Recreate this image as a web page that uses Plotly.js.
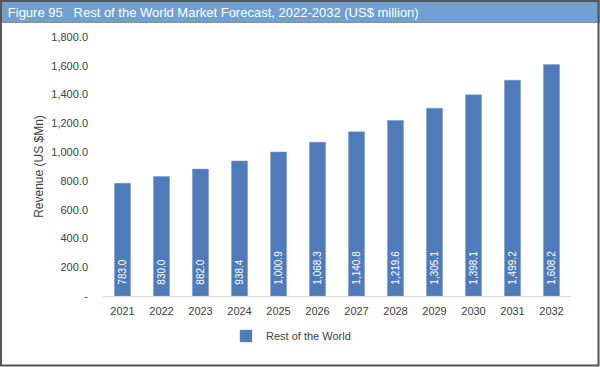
<!DOCTYPE html>
<html>
<head>
<meta charset="utf-8">
<script src="https://cdn.plot.ly/plotly-3.0.1.min.js"></script>
<style>html,body{margin:0;padding:0;background:#fff;}#chart{width:600px;height:367px;}</style>
</head>
<body>
<div id="chart"></div>
<script>
const years = ["2021","2022","2023","2024","2025","2026","2027","2028","2029","2030","2031","2032"];
const revenue = [783.0, 830.0, 882.0, 938.4, 1000.9, 1068.3, 1140.8, 1219.6, 1305.1, 1398.1, 1499.2, 1608.2];
const seriesName = "Rest of the World";
const yTickVals = [0, 200, 400, 600, 800, 1000, 1200, 1400, 1600, 1800];
const yTickText = ["-", "200.0", "400.0", "600.0", "800.0", "1,000.0", "1,200.0", "1,400.0", "1,600.0", "1,800.0"];

const fmt = v => "&nbsp;&nbsp;&nbsp;" + v.toLocaleString("en-US", {minimumFractionDigits: 1, maximumFractionDigits: 1});

// pixel -> paper conversion helpers for decoration shapes
const L = 103, R = 29, T = 37, B = 71, W = 600, H = 367;
const pw = W - L - R, ph = H - T - B;
const px = x => (x - L) / pw;
const py = y => (H - B - y) / ph;

const trace = {
  type: "bar",
  x: years,
  y: revenue,
  name: seriesName,
  marker: {color: "#4f7bba", line: {color: "#6f97cc", width: 0.5}},
  text: revenue.map(fmt),
  textposition: "inside",
  insidetextanchor: "start",
  textangle: -90,
  textfont: {family: "Liberation Sans, Arial, sans-serif", size: 10, color: "#ffffff"},
  constraintext: "none",
  hoverinfo: "skip",
  showlegend: true
};

const layout = {
  width: W, height: H,
  margin: {l: L, r: R, t: T, b: B, pad: 0},
  paper_bgcolor: "#ffffff",
  plot_bgcolor: "#ffffff",
  bargap: 0.59,
  title: {
    text: "Figure 95&nbsp;&nbsp;&nbsp;Rest of the World Market Forecast, 2022-2032 (US$ million)",
    font: {family: "Liberation Sans, Arial, sans-serif", size: 13, color: "#ffffff"},
    xref: "container", x: 0.013, xanchor: "left",
    yref: "container", y: 1 - 12/H, yanchor: "middle"
  },
  xaxis: {
    type: "category",
    range: [-0.5, 11.5],
    showgrid: false,
    showline: true, linecolor: "#d9d9d9", linewidth: 1,
    ticks: "",
    tickfont: {family: "Liberation Sans, Arial, sans-serif", size: 11, color: "#404040"},
    ticklabelstandoff: 5
  },
  yaxis: {
    range: [0, 1800],
    tickvals: yTickVals,
    ticktext: yTickText,
    showgrid: false,
    showline: false,
    zeroline: false,
    ticks: "",
    tickfont: {family: "Liberation Sans, Arial, sans-serif", size: 11, color: "#404040"},
    ticklabelstandoff: 14,
    title: {text: "Revenue (US $Mn)", font: {family: "Liberation Sans, Arial, sans-serif", size: 12, color: "#404040"}, standoff: 5}
  },
  legend: {
    orientation: "h",
    xref: "container", x: 0.485, xanchor: "center",
    yref: "container", y: 1 - 336/H, yanchor: "middle",
    font: {family: "Liberation Sans, Arial, sans-serif", size: 11, color: "#404040"},
    itemwidth: 30
  },
  shapes: [
    {type: "rect", xref: "paper", yref: "paper", x0: px(0), x1: px(600), y0: py(0), y1: py(22),
     fillcolor: "#6fa0d3", line: {width: 0}, layer: "below"},
    {type: "line", xref: "paper", yref: "paper", x0: px(0), x1: px(600), y0: py(22.5), y1: py(22.5),
     line: {color: "#8c8c8c", width: 1}},
    {type: "rect", xref: "paper", yref: "paper", x0: px(1), x1: px(598.5), y0: py(1), y1: py(365.5),
     fillcolor: "rgba(0,0,0,0)", line: {color: "#555555", width: 2}}
  ]
};

Plotly.newPlot("chart", [trace], layout, {staticPlot: true, displayModeBar: false});
</script>
</body>
</html>
